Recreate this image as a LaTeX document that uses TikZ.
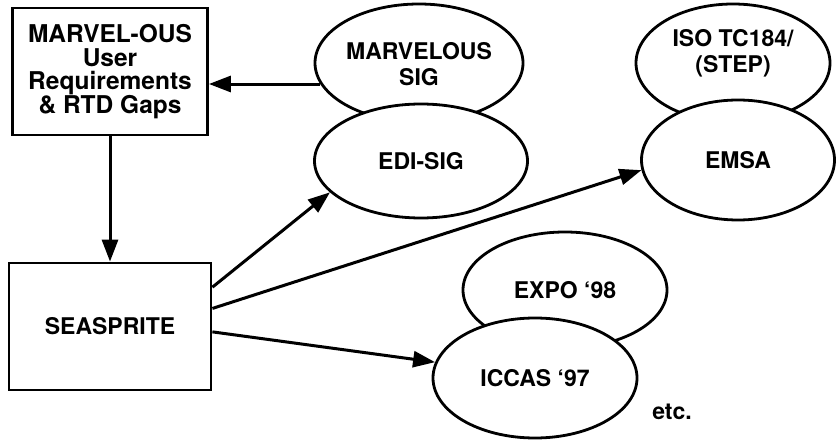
\documentclass[tikz,border=0pt]{standalone}
\usepackage{fontspec}
\setmainfont{TeX Gyre Heros}
\usetikzlibrary{shapes.geometric,arrows.meta}
\begin{document}
\begin{tikzpicture}[x=1pt,y=-1pt,line width=2.8pt,
    font=\bfseries\fontsize{23}{26}\selectfont,
    box/.style={draw,rectangle,inner sep=0pt,align=center},
    blob/.style={draw,ellipse,fill=white,inner sep=0pt,align=center},
    arr/.style={-{Triangle[length=22pt,width=16pt]},line width=3pt}]
    \useasboundingbox (0,0) rectangle (837,443);
    % boxes
    \node (req) [box,minimum width=195pt,minimum height=127pt,font=\bfseries\fontsize{24.5}{23.7}\selectfont] at (110,71.5) {MARVEL-OUS\\User\\Requirements\\\& RTD Gaps};
    \node (sea) [box,minimum width=202pt,minimum height=127pt] at (110,326.5) {SEASPRITE};
    % groups, the back ellipse first
    \node (sig) [blob,minimum width=208pt,minimum height=118pt] at (419,63) {};
    \node (sigtext) [align=center] at ([yshift=-1pt]sig.center) {MARVELOUS\\SIG};
    \node (edi) [blob,minimum width=213pt,minimum height=114pt] at (421,161) {EDI-SIG};
    \node (iso) [blob,minimum width=194pt,minimum height=118pt] at (733,63) {};
    \node (isotext) [align=center] at ([yshift=10pt]iso.center) {ISO TC184/\\(STEP)};
    \node (emsa) [blob,minimum width=193pt,minimum height=120pt] at (738,160) {EMSA};
    \node (expo) [blob,minimum width=204pt,minimum height=116pt] at (565,290) {EXPO ‘98};
    \node (iccas) [blob,minimum width=204pt,minimum height=120pt] at (535,378) {ICCAS ‘97};
    \node (etc) at (672,412) {etc.};
    % arrows
    \draw [arr] (sig.192) -- (sig.192 -| req.east);
    \draw [arr] (req.south) -- (sea.north);
    \draw [arr] (sea.21) -- (edi.199);
    \draw [arr] (sea.10) -- (emsa.186);
    \draw [arr] (sea.357) -- (iccas.171);
\end{tikzpicture}
\end{document}
